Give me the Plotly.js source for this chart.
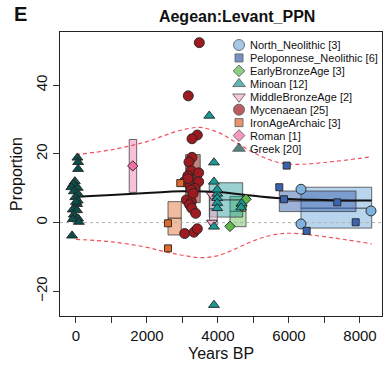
<!DOCTYPE html>
<html><head><meta charset="utf-8">
<script src="https://cdn.plot.ly/plotly-3.0.1.min.js"></script>
<style>html,body{margin:0;padding:0;background:#fff;}#chart{width:392px;height:377px;}</style>
</head><body><div id="chart"></div>
<script>
// ---- groups (legend order) ----
const groups = ["North_Neolithic","Peloponnese_Neolithic","EarlyBronzeAge","Minoan","MiddleBronzeAge","Mycenaean","IronAgeArchaic","Roman","Greek"];
const groupCounts = [3, 6, 3, 12, 2, 25, 3, 1, 20];
const groupColors = ["#7fb2de","#3b63b0","#5db84c","#1a9a95","#f6b0cc","#9c1a20","#e0682a","#f26ea8","#0c4e49"];
const groupSymbols = ["circle","square","diamond","triangle-up","triangle-down","circle","square","diamond","triangle-up"];

// ---- individual samples: years BP and proportion ----
const northYears = [6338, 6338, 8310];
const northProp  = [9.7, -0.4, 3.4];
const peloYears  = [5935, 5727, 5859, 7361, 7878, 6498];
const peloProp   = [16.6, 10.3, 6.8, 5.9, 0.1, -2.4];
const ebaYears   = [4338, 4667, 4789];
const ebaProp    = [-1.1, 4.7, 6.8];
const minoanYears = [3755, 3887, 3887, 3980, 3980, 3980, 3980, 3980, 3887, 3887, 4667, 4650];
const minoanProp  = [31.1, 17.5, 11.9, 8.4, 7.1, 5.7, 4.2, 9.6, -1.2, -24.0, 5.6, 4.4];
const mbaYears   = [3822, 3830];
const mbaProp    = [8.1, 0.0];
const mycYears = [3474, 3164, 3418, 3268, 3268, 3183, 3250, 3456, 3150, 3230, 3050, 3456, 3220,
                  3340, 3250, 3108, 3250, 3200, 3260, 3370, 3062, 3324, 3418, 3300, 3150];
const mycProp  = [52.4, 36.9, 25.5, 24.4, 19.0, 17.6, 15.1, 14.5, 13.6, 12.4, 11.9, 11.9, 10.7,
                  10.0, 9.5, 6.6, 6.1, 5.2, 4.2, 2.7, -3.2, -2.8, -1.8, 8.5, 12.8];
const ironYears  = [2938, 2592, 2592];
const ironProp   = [11.5, -0.2, -7.5];
const romanYears = [1600];
const romanProp  = [16.5];
const greekYears = [40, 60, 60, -30, -80, -130, 50, -60, 70, -20, 50, 30, -90, 30, -60, 60, -90, 80, -110, 0];
const greekProp  = [18.9, 17.6, 15.6, 12.0, 11.2, 10.3, 10.1, 9.1, 8.2, 7.4, 6.4, 5.4, 3.8, 3.6, 2.3, 1.2, 1.0, 0.2, -3.8, 6.0];

// ---- group summary boxes (date range x mean +/- interval), legend order ----
const boxYearMin = [6338, 5727, 4338, 3755, 3765, 3090, 2592, 1500, null];
const boxYearMax = [8330, 7887, 4790, 4695, 3980, 3500, 2966, 1710, null];
const boxLow     = [-1.6, 3.2, -1.2, 1.6, -0.7, 5.8, -3.6, 8.8, null];
const boxHigh    = [10.3, 9.2, 7.6, 11.6, 8.6, 19.8, 6.1, 24.2, null];
const boxMean    = [4.2, 6.3, 3.3, 6.6, 4.0, 12.8, 1.3, 16.5, null];
const boxFills   = ["rgba(127,178,222,0.55)","rgba(59,99,176,0.5)","rgba(93,184,76,0.45)","rgba(26,154,149,0.45)",
                    "rgba(230,180,210,0.6)","rgba(150,50,38,0.6)","rgba(224,104,42,0.45)","rgba(246,150,190,0.6)", null];

// ---- fitted trend and confidence band ----
const fitYears = [0, 1000, 2000, 3000, 4000, 5000, 6000, 7000, 8330];
const fitProp  = [7.5, 8.0, 8.6, 9.1, 8.9, 7.8, 6.9, 6.6, 6.4];
const bandYears = [0, 1000, 2000, 2500, 3000, 3500, 4000, 4500, 5000, 5500, 6000, 7000, 8330];
const bandUpper = [19.8, 21.2, 23.6, 25.4, 27.0, 27.7, 26.3, 23.4, 20.4, 18.1, 17.0, 17.5, 19.2];
const bandLower = [-4.9, -5.6, -7.2, -8.5, -9.5, -10.2, -9.6, -7.6, -5.3, -3.7, -3.1, -4.1, -6.2];

const xTickVals = [0, 2000, 4000, 6000, 8000];
const yTickVals = [-20, 0, 20, 40];

const sampleYears = [northYears, peloYears, ebaYears, minoanYears, mbaYears, mycYears, ironYears, romanYears, greekYears];
const sampleProp  = [northProp, peloProp, ebaProp, minoanProp, mbaProp, mycProp, ironProp, romanProp, greekProp];
const markerSizes = [10, 7, 8, 9.5, 9.5, 10, 7, 8, 9.5];
const drawOrder = [0, 1, 2, 4, 3, 5, 6, 7, 8];

const FONT = "Liberation Sans, Arial, Helvetica, sans-serif";
const traces = [];

traces.push({x: [-450, 8620], y: [0, 0], mode: 'lines', line: {color: '#b0b0b0', width: 1, dash: 'dot'}, hoverinfo: 'skip'});
traces.push({x: bandYears, y: bandUpper, mode: 'lines', line: {color: '#f2505c', width: 1.2, dash: '4px,3px', shape: 'spline'}, hoverinfo: 'skip'});
traces.push({x: bandYears, y: bandLower, mode: 'lines', line: {color: '#f2505c', width: 1.2, dash: '4px,3px', shape: 'spline'}, hoverinfo: 'skip'});
traces.push({x: fitYears, y: fitProp, mode: 'lines', line: {color: '#111', width: 2, shape: 'spline'}, hoverinfo: 'skip'});

drawOrder.forEach(i => {
  traces.push({
    x: sampleYears[i], y: sampleProp[i], mode: 'markers', name: groups[i],
    marker: {symbol: groupSymbols[i], size: markerSizes[i], color: groupColors[i], line: {color: '#222', width: 0.9}},
    cliponaxis: false
  });
});

// legend glyphs (manual, in pixel-like overlay axes)
const legendRow0 = 13, legendStep = 12.94, legendMarkX = 179, legendTextX = 188;
const legendY = groups.map((g, i) => legendRow0 + legendStep * i);
const legendMarkerSizes = [11, 8, 9, 11, 11, 11, 8, 9, 11];
traces.push({
  x: groups.map(() => legendMarkX), y: legendY, xaxis: 'x2', yaxis: 'y2', mode: 'markers',
  marker: {symbol: groupSymbols, size: legendMarkerSizes, color: groupColors, line: {color: '#222', width: 0.9}},
  hoverinfo: 'skip', cliponaxis: false
});

const shapes = [];
groups.forEach((g, i) => {
  if (boxYearMin[i] === null) return;
  shapes.push({type: 'rect', xref: 'x', yref: 'y', x0: boxYearMin[i], x1: boxYearMax[i], y0: boxLow[i], y1: boxHigh[i],
    fillcolor: boxFills[i], line: {color: 'rgba(60,60,60,0.75)', width: 1}, layer: 'below'});
  shapes.push({type: 'line', xref: 'x', yref: 'y', x0: boxYearMin[i], x1: boxYearMax[i], y0: boxMean[i], y1: boxMean[i],
    line: {color: 'rgba(30,30,30,0.85)', width: 1}, layer: 'below'});
});

const annotations = groups.map((g, i) => ({
  xref: 'x2', yref: 'y2', x: legendTextX, y: legendY[i], xanchor: 'left', yanchor: 'middle',
  text: g + ' [' + groupCounts[i] + ']', showarrow: false, font: {family: FONT, size: 11, color: '#111'}
}));
annotations.push({xref: 'paper', yref: 'paper', x: -0.123, y: 1.063, xanchor: 'center', yanchor: 'middle',
  text: '<b>E</b>', showarrow: false, font: {family: FONT, size: 20, color: '#111'}});

const layout = {
  width: 392, height: 377,
  margin: {l: 60, r: 10, t: 32, b: 61},
  paper_bgcolor: '#fff', plot_bgcolor: 'rgba(0,0,0,0)',
  showlegend: false,
  font: {family: FONT, color: '#111'},
  title: {text: '<b>Aegean:Levant_PPN</b>', x: 0.605, xref: 'container', xanchor: 'center',
          y: 0.956, yref: 'container', yanchor: 'middle', font: {family: FONT, size: 16, color: '#111'}},
  xaxis: {range: [-450, 8620], tickvals: xTickVals, ticks: 'outside', ticklen: 6, tickcolor: '#333',
          minor: {dtick: 1000, tick0: 0, ticks: 'outside', ticklen: 6, tickcolor: '#333', showgrid: false},
          showgrid: false, zeroline: false, showline: true, linecolor: '#222', linewidth: 1.2, mirror: true,
          tickfont: {family: FONT, size: 15, color: '#111'},
          title: {text: 'Years BP', font: {family: FONT, size: 16, color: '#111'}, standoff: 4}},
  yaxis: {range: [-27.2, 55.5], tickvals: yTickVals, ticks: 'outside', ticklen: 6, tickcolor: '#333', tickangle: -90,
          showgrid: false, zeroline: false, showline: true, linecolor: '#222', linewidth: 1.2, mirror: true,
          tickfont: {family: FONT, size: 15, color: '#111'},
          title: {text: 'Proportion', font: {family: FONT, size: 16, color: '#111'}, standoff: 6}},
  xaxis2: {overlaying: 'x', range: [0, 322], visible: false, fixedrange: true},
  yaxis2: {overlaying: 'y', range: [284, 0], visible: false, fixedrange: true},
  shapes: shapes,
  annotations: annotations
};

Plotly.newPlot('chart', traces, layout, {staticPlot: true, displayModeBar: false});
</script>
</body></html>
